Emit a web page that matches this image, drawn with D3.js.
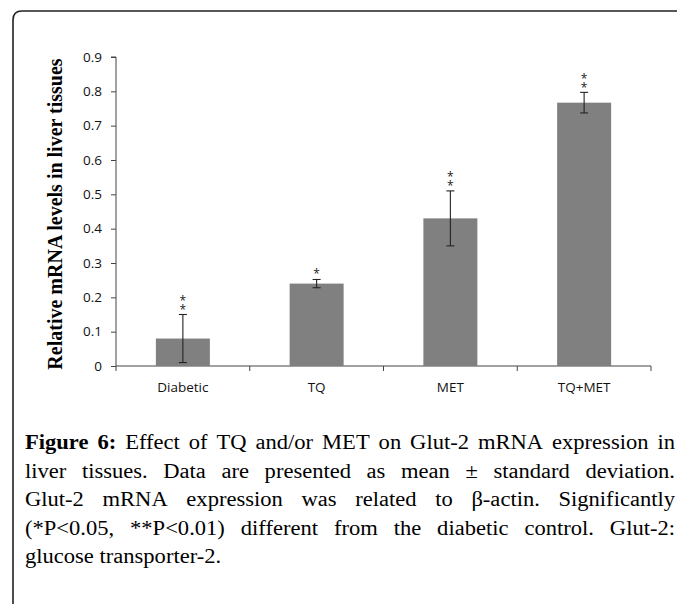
<!DOCTYPE html>
<html>
<head>
<meta charset="utf-8">
<script src="https://cdn.jsdelivr.net/npm/d3@7"></script>
<style>
  html, body { margin: 0; padding: 0; background: #fff; }
  svg { display: block; }
</style>
</head>
<body>
<svg id="chart" width="677" height="604"></svg>
<script>
// ---- data ----
const categories = ["Diabetic", "TQ", "MET", "TQ+MET"];
const values = [0.08, 0.24, 0.43, 0.767];
const errors = [0.07, 0.012, 0.08, 0.03];
const stars = ["**", "*", "**", "**"];
const yTicks = [0, 0.1, 0.2, 0.3, 0.4, 0.5, 0.6, 0.7, 0.8, 0.9];
const yTitle = "Relative mRNA levels in liver tissues";
const captionBold = ["Figure", "6:"];
const captionLines = [
  "Effect of TQ and/or MET on Glut-2 mRNA expression in",
  "liver tissues. Data are presented as mean \u00b1 standard deviation.",
  "Glut-2 mRNA expression was related to \u03b2-actin. Significantly",
  "(*P<0.05, **P<0.01) different from the diabetic control. Glut-2:",
  "glucose transporter-2."
];

const svg = d3.select("#chart");

// ---- frame ----
const fx = 13, fy = 11, r = 9;
svg.append("path")
  .attr("d", `M${fx},604 L${fx},${fy + r} Q${fx},${fy} ${fx + r},${fy} L677,${fy}`)
  .attr("fill", "none").attr("stroke", "#222").attr("stroke-width", 1.6);

// ---- scales ----
const x = d3.scaleBand().domain(categories).range([116, 651]).paddingInner(0).paddingOuter(0);
const y = d3.scaleLinear().domain([0, 0.9]).range([366, 57]);
const barW = 54;

const axisColor = "#444";
const labelFont = "'Open Sans', 'Noto Sans', sans-serif";

// y axis
const yAxis = svg.append("g").attr("transform", "translate(116,0)")
  .call(d3.axisLeft(y).tickValues(yTicks).tickSize(5).tickPadding(9)
    .tickFormat(d => d === 0 ? "0" : d3.format(".1f")(d)));
yAxis.select(".domain").attr("stroke", axisColor).attr("d", `M-5,${y(0.9)}H0V${y(0)}`);
yAxis.selectAll(".tick line").attr("stroke", axisColor);
yAxis.selectAll(".tick text").attr("fill", "#111")
  .style("font-family", labelFont).style("font-size", "13.5px");

// x axis
const xAxisG = svg.append("g").attr("transform", `translate(0,${y(0)})`);
xAxisG.append("line").attr("x1", 116).attr("x2", 651).attr("y1", 0).attr("y2", 0)
  .attr("stroke", axisColor);
const bounds = [116].concat(categories.map(c => x(c) + x.bandwidth()));
xAxisG.selectAll(".xt").data(bounds).join("line")
  .attr("x1", d => d).attr("x2", d => d).attr("y1", 0).attr("y2", 5)
  .attr("stroke", axisColor);
xAxisG.selectAll(".xl").data(categories).join("text")
  .attr("x", d => x(d) + x.bandwidth() / 2).attr("y", 26)
  .attr("text-anchor", "middle").attr("fill", "#111")
  .style("font-family", labelFont).style("font-size", "13.5px")
  .text(d => d);

// bars
svg.selectAll(".bar").data(categories).join("rect")
  .attr("x", d => x(d) + x.bandwidth() / 2 - barW / 2)
  .attr("width", barW)
  .attr("y", (d, i) => y(values[i]))
  .attr("height", (d, i) => y(0) - y(values[i]))
  .attr("fill", "#808080");

// error bars
const eb = svg.append("g").attr("stroke", "#222").attr("stroke-width", 1.1);
categories.forEach((c, i) => {
  const cx = x(c) + x.bandwidth() / 2;
  const top = y(values[i] + errors[i]);
  const bot = y(values[i] - errors[i]);
  eb.append("line").attr("x1", cx).attr("x2", cx).attr("y1", top).attr("y2", bot);
  eb.append("line").attr("x1", cx - 4).attr("x2", cx + 4).attr("y1", top).attr("y2", top);
  eb.append("line").attr("x1", cx - 4).attr("x2", cx + 4).attr("y1", bot).attr("y2", bot);
  // significance stars, stacked vertically (one text, vertical writing mode)
  const n = stars[i].length;
  svg.append("text")
    .attr("x", cx)
    .attr("y", top - 5.5 - 4 * n)
    .attr("text-anchor", "middle")
    .attr("dominant-baseline", "central")
    .attr("fill", "#222")
    .style("writing-mode", "vertical-rl")
    .style("text-orientation", "upright")
    .style("letter-spacing", "-8px")
    .style("font-family", labelFont).style("font-size", "12px")
    .text(stars[i]);
});

// y title
svg.append("text")
  .attr("transform", `translate(62,214) rotate(-90)`)
  .attr("text-anchor", "middle")
  .style("font-family", "'Liberation Serif', 'Times New Roman', serif")
  .style("font-weight", "bold").style("font-size", "20px")
  .attr("fill", "#000")
  .text(yTitle);

// ---- caption (justified) ----
const capFont = "'Liberation Serif', 'Times New Roman', serif";
const capSize = 20.5;
const stretch = 1.1;
const cx0 = 25, cx1 = 675, base0 = 449, lh = 28.5;
const cap = svg.append("g").style("font-family", capFont).style("font-size", capSize + "px").attr("fill", "#000");

captionLines.forEach((line, li) => {
  let words = line.split(" ").map(w => ({ t: w, bold: false }));
  if (li === 0) words = captionBold.map(w => ({ t: w, bold: true })).concat(words);
  const nodes = words.map(w => cap.append("text")
    .attr("y", base0 + li * lh)
    .style("font-weight", w.bold ? "bold" : "normal")
    .text(w.t));
  const widths = nodes.map(n => n.node().getComputedTextLength() * stretch);
  nodes.forEach((n, i) => n.attr("textLength", widths[i]).attr("lengthAdjust", "spacingAndGlyphs"));
  const total = d3.sum(widths);
  const last = li === captionLines.length - 1;
  const gap = last ? capSize * 0.25 * stretch : (cx1 - cx0 - total) / (words.length - 1);
  let xx = cx0;
  nodes.forEach((n, i) => { n.attr("x", xx); xx += widths[i] + gap; });
});
</script>
</body>
</html>
